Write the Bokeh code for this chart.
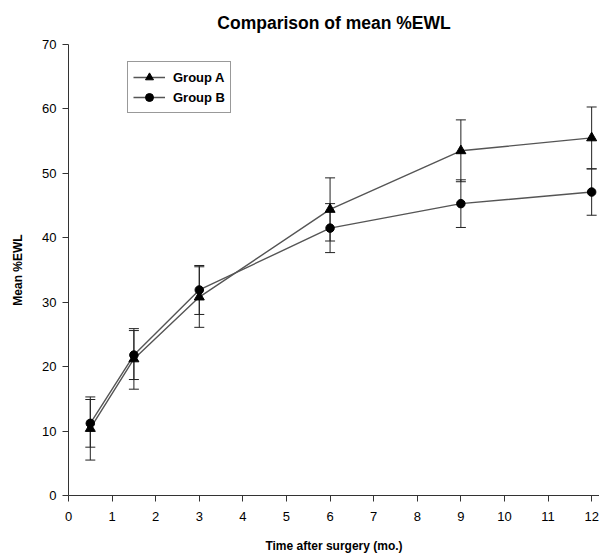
from bokeh.plotting import figure
from bokeh.models import ColumnDataSource, Whisker, TeeHead, Range1d, FixedTicker, Legend, LegendItem
from bokeh.embed import file_html
from bokeh.resources import INLINE

months = [0.5, 1.5, 3, 6, 9, 12]
group_a_mean = [10.4, 21.2, 30.8, 44.4, 53.5, 55.5]
group_a_err = [4.9, 4.7, 4.7, 4.9, 4.8, 4.8]
group_b_mean = [11.2, 21.8, 31.9, 41.5, 45.3, 47.1]
group_b_err = [3.7, 3.8, 3.8, 3.8, 3.7, 3.6]
x_ticks = list(range(0, 13))
y_ticks = list(range(0, 71, 10))

FONT = "Liberation Sans"

src_a = ColumnDataSource(dict(
    x=months, y=group_a_mean,
    upper=[m + e for m, e in zip(group_a_mean, group_a_err)],
    lower=[m - e for m, e in zip(group_a_mean, group_a_err)],
))
src_b = ColumnDataSource(dict(
    x=months, y=group_b_mean,
    upper=[m + e for m, e in zip(group_b_mean, group_b_err)],
    lower=[m - e for m, e in zip(group_b_mean, group_b_err)],
))

p = figure(width=599, height=555, output_backend="svg", toolbar_location=None,
           x_range=Range1d(0, 12.18), y_range=Range1d(0, 70),
           min_border_left=68, min_border_right=0, min_border_top=44, min_border_bottom=50)

p.title.text = "Comparison of mean %EWL"
p.title.align = "center"
p.title.vertical_align = "top"
p.title.offset = -3
p.title.text_font = FONT
p.title.text_font_size = "17.5px"
p.title.text_font_style = "bold"
p.title.text_color = "black"
p.title.standoff = 19

p.xgrid.visible = False
p.ygrid.visible = False
p.outline_line_color = None

for ax in (p.xaxis[0], p.yaxis[0]):
    ax.axis_line_color = "#333333"
    ax.major_tick_line_color = "#333333"
    ax.major_tick_in = 0
    ax.major_tick_out = 6
    ax.minor_tick_line_color = None
    ax.major_label_text_font = FONT
    ax.major_label_text_font_size = "13px"
    ax.major_label_text_color = "black"
    ax.axis_label_text_font = FONT
    ax.axis_label_text_font_size = "12px"
    ax.axis_label_text_font_style = "bold"
    ax.axis_label_text_color = "black"

p.xaxis.ticker = FixedTicker(ticks=x_ticks)
p.yaxis.ticker = FixedTicker(ticks=y_ticks)
p.xaxis.axis_label = "Time after surgery (mo.)"
p.yaxis.axis_label = "Mean %EWL"
p.xaxis.major_label_standoff = 10
p.xaxis.axis_label_standoff = 15
p.yaxis.major_label_standoff = 6
p.yaxis.axis_label_standoff = 14

for src in (src_a, src_b):
    w = Whisker(source=src, base="x", upper="upper", lower="lower", dimension="height",
                line_color="#222222", line_width=1,
                upper_head=TeeHead(size=10, line_color="#222222", line_width=1),
                lower_head=TeeHead(size=10, line_color="#222222", line_width=1))
    p.add_layout(w)

la = p.line("x", "y", source=src_a, line_color="#555555", line_width=1.4)
lb = p.line("x", "y", source=src_b, line_color="#555555", line_width=1.4)
ma = p.scatter("x", "y", source=src_a, marker="triangle", size=10, fill_color="black", line_color="black")
mb = p.scatter("x", "y", source=src_b, marker="circle", size=8.5, fill_color="black", line_color="black")

legend = Legend(items=[LegendItem(label="Group A", renderers=[la, ma]),
                       LegendItem(label="Group B", renderers=[lb, mb])],
                location=(59, 382))
legend.label_text_font = FONT
legend.label_text_font_size = "13px"
legend.label_text_font_style = "bold"
legend.label_text_color = "black"
legend.border_line_color = "#333333"
legend.border_line_width = 1
legend.background_fill_color = "white"
legend.padding = 5
legend.spacing = 0
legend.glyph_width = 32
legend.glyph_height = 20
legend.label_height = 20
legend.label_standoff = 8
legend.margin = 0
p.add_layout(legend, "center")

open("out.html", "w").write(file_html(p, INLINE))
